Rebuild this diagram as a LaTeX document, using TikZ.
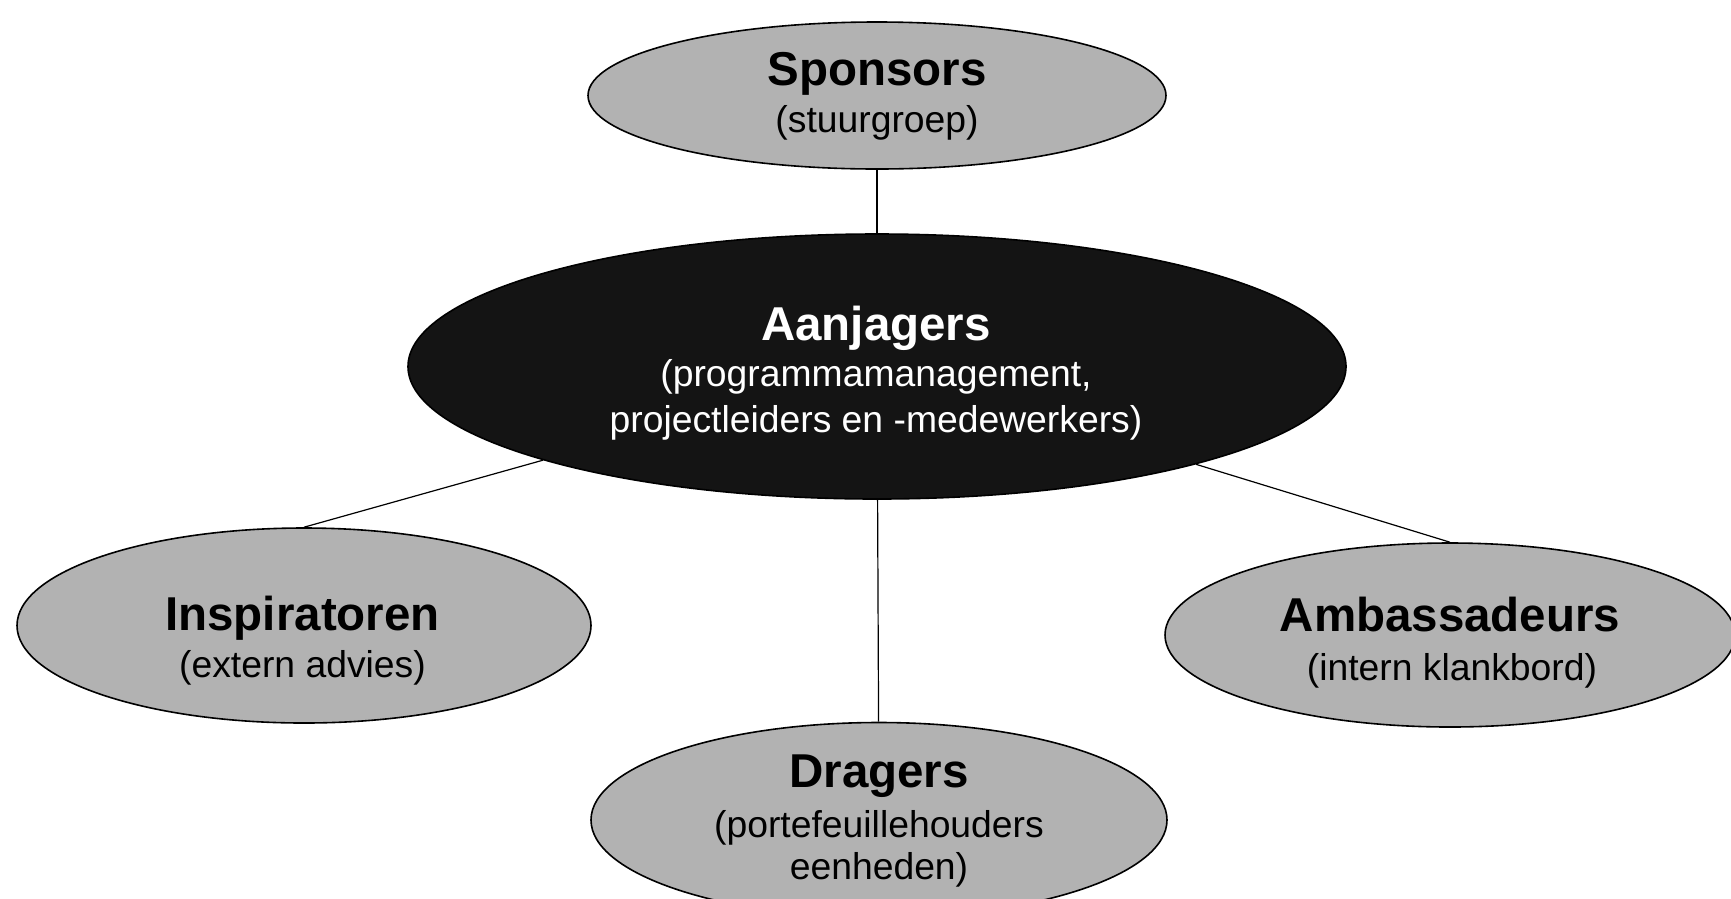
\documentclass[tikz,border=0pt]{standalone}
\usepackage{fontspec}
\setmainfont{Liberation Sans}
\usetikzlibrary{shapes.geometric}
\definecolor{lightfill}{RGB}{178,178,178}
\definecolor{darkfill}{RGB}{20,20,20}
\tikzset{
  role/.style={ellipse, draw=black, line width=1.6pt, fill=lightfill, inner sep=0pt},
  core/.style={ellipse, draw=black, line width=1.6pt, fill=darkfill, inner sep=0pt},
  titletext/.style={anchor=base, inner sep=0pt, font=\fontsize{47.5}{55}\selectfont\bfseries},
  subtext/.style={anchor=base, inner sep=0pt, font=\fontsize{37.3}{46}\selectfont},
  link/.style={draw=black, line width=1.2pt}
}
\begin{document}
\begin{tikzpicture}[x=1pt,y=-1pt]
\useasboundingbox (0,0) rectangle (1731,898);
% ellipses
\node[role, minimum width=578pt, minimum height=147pt] (spon) at (877,95.5) {};
\node[core, minimum width=938pt, minimum height=265pt] (aanj) at (877,366.5) {};
\node[role, minimum width=574pt, minimum height=195pt] (insp) at (304,625.5) {};
\node[role, minimum width=570pt, minimum height=184pt] (amb) at (1450,635) {};
\node[role, minimum width=576pt, minimum height=195pt] (drag) at (879,820) {};
% connectors
\draw[link] (spon) -- (aanj);
\draw[link] (aanj) -- (insp.north);
\draw[link] (aanj) -- (amb.north);
\draw[link] (aanj) -- (drag);
% texts
\node[titletext] (sponT) at (877,85.5) {Sponsors};
\node[subtext] (sponS) at (877,132) {(stuurgroep)};
\node[titletext, text=white] (aanT) at (876,340.5) {Aanjagers};
\node[subtext, text=white] (aanS1) at (876,386) {(programmamanagement,};
\node[subtext, text=white] (aanS2) at (876,432.5) {projectleiders en -medewerkers)};
\node[titletext] (inspT) at (302.5,630) {Inspiratoren};
\node[subtext] (inspS) at (302.5,677.6) {(extern advies)};
\node[titletext] (ambT) at (1450,631) {Ambassadeurs};
\node[subtext] (ambS) at (1452,680) {(intern klankbord)};
\node[titletext] (dragT) at (879,787.6) {Dragers};
\node[subtext] (dragS1) at (879,837.7) {(portefeuillehouders};
\node[subtext] (dragS2) at (879,879.6) {eenheden)};
\end{tikzpicture}
\end{document}
